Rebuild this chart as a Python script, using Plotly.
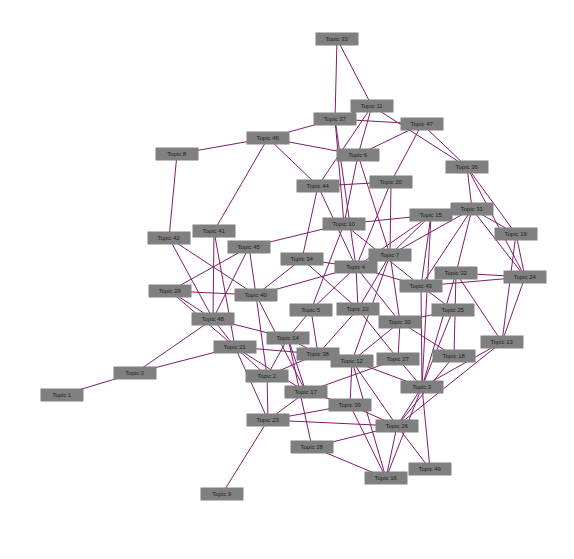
import plotly.graph_objects as go

pos = {
 0:(135,373),1:(62,395),2:(267,376),3:(422,387),4:(356,267),5:(311,310),6:(358,155),7:(390,255),
 8:(177,154),9:(222,494),10:(344,224),11:(372,106),12:(352,361),13:(502,342),14:(288,338),15:(431,215),
 16:(386,478),17:(306,392),18:(454,356),19:(516,234),20:(391,182),21:(235,347),22:(358,309),23:(268,420),
 24:(525,277),25:(453,310),26:(397,426),27:(398,359),28:(312,447),29:(170,291),30:(400,322),31:(472,209),
 32:(456,273),33:(337,39),34:(302,259),36:(467,167),37:(335,119),38:(318,354),39:(350,405),
 40:(256,295),41:(214,231),42:(169,238),43:(421,286),44:(318,186),45:(249,247),46:(268,138),47:(422,124),
 48:(213,319),49:(430,469),
}
labels = {k: f"Topic {k}" for k in pos}
edges = [(33,37),(33,11),(37,47),(37,46),(37,10),(37,4),(11,6),(11,44),(11,36),(11,37),(47,6),(47,20),
 (47,36),(46,8),(46,6),(46,44),(46,41),(8,42),(6,10),(6,7),(44,20),(44,34),(44,4),(20,7),(20,4),(10,45),
 (10,15),(10,43),(10,5),(36,31),(36,19),(36,24),(15,31),(15,7),(15,43),(15,4),(15,3),(31,7),(31,32),
 (31,43),(31,19),(31,24),(19,24),(24,32),(24,43),(24,13),(19,13),(32,13),(32,18),(32,3),(43,3),(43,4),
 (43,25),(4,22),(4,34),(4,40),(4,30),(4,5),(7,30),(7,12),(7,22),(25,30),(25,3),(30,18),(30,12),(30,27),
 (22,27),(22,38),(13,3),(13,26),(3,27),(3,26),(3,49),(3,12),(27,17),(12,39),(12,38),(38,2),(38,14),
 (5,14),(5,38),(34,40),(34,22),(45,40),(45,48),(45,29),(41,48),(41,21),(42,48),(42,40),(29,48),(29,21),
 (29,40),(40,2),(40,17),(48,0),(48,14),(48,21),(0,1),(0,21),(21,2),(21,23),(21,38),(21,17),(2,23),
 (2,14),(14,17),(14,28),(17,23),(17,39),(23,9),(23,39),(23,26),(39,16),(39,26),(28,26),(28,16),(26,16),
 (26,49),(26,18),(16,3),(16,12),(12,26)]

ex, ey = [], []
for a, b in edges:
    ex += [pos[a][0], pos[b][0], None]
    ey += [pos[a][1], pos[b][1], None]

fig = go.Figure()
fig.add_trace(go.Scatter(x=ex, y=ey, mode="lines", line=dict(color="#7d1d6c", width=1),
                         hoverinfo="skip", showlegend=False))
keys = sorted(pos)
annotations = [dict(x=pos[k][0], y=pos[k][1], xref="x", yref="y", text=labels[k], showarrow=False,
                    bgcolor="#808080", width=40, height=10, borderpad=1,
                    font=dict(size=6, color="#222", family="Liberation Sans"))
               for k in keys]
fig.update_layout(width=574, height=559, margin=dict(l=0, r=0, t=0, b=0), plot_bgcolor="white",
                  paper_bgcolor="white", annotations=annotations,
                  xaxis=dict(range=[8, 582], visible=False),
                  yaxis=dict(range=[567, 8], visible=False))
fig.write_html("out.html")
